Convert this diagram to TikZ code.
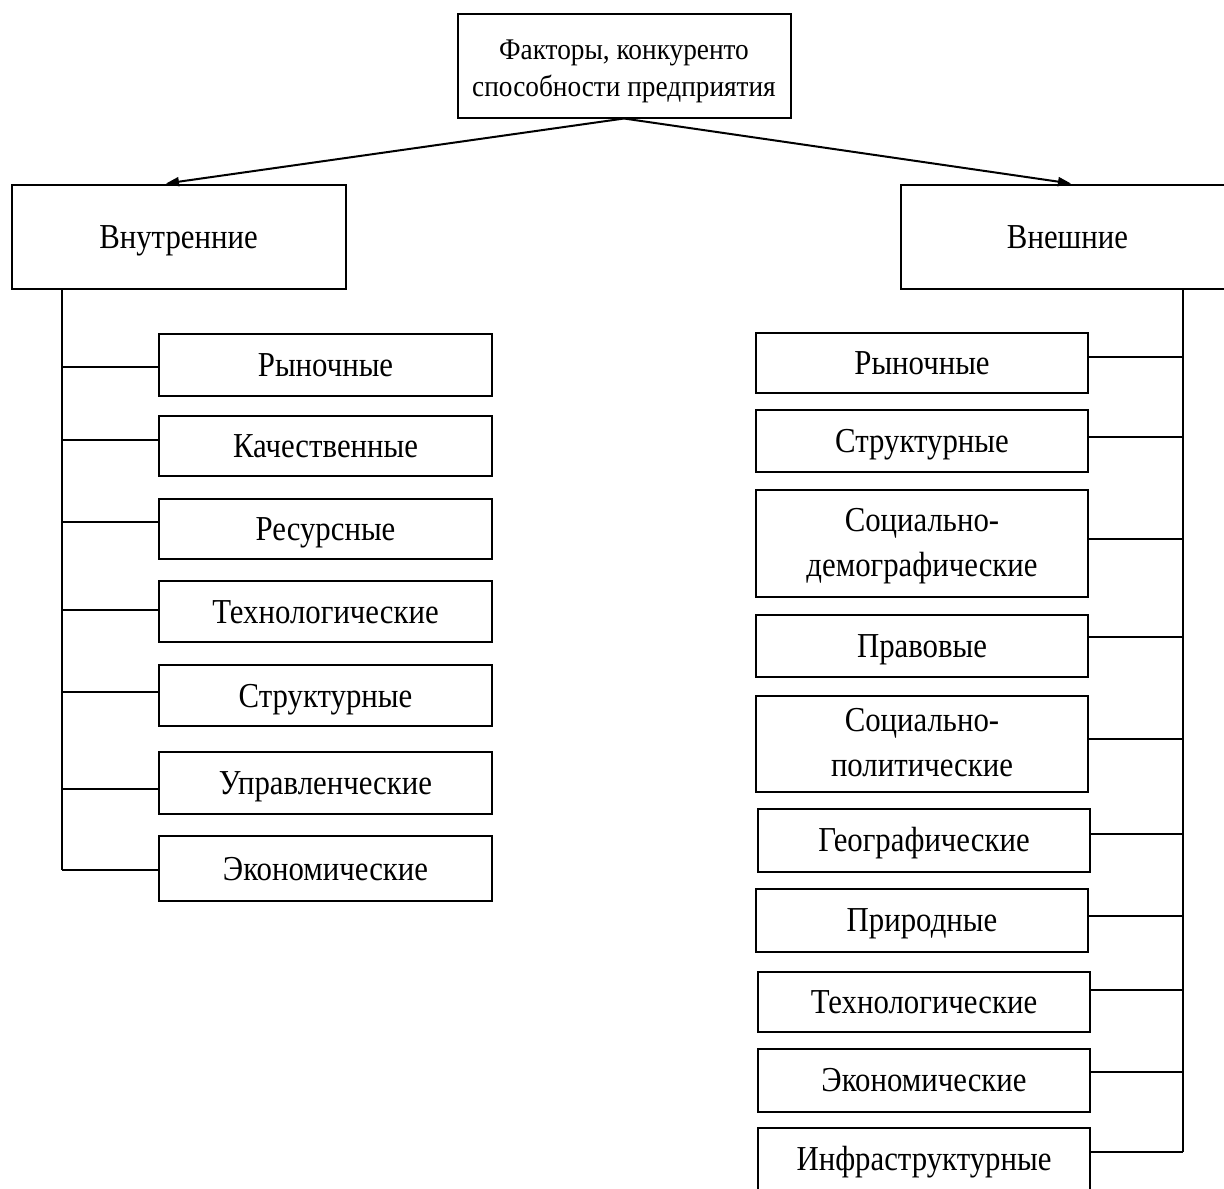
\documentclass[tikz,border=0pt]{standalone}
\usepackage{fontspec}
\setmainfont{Liberation Serif}[FakeStretch=0.88]
\newfontfamily\topfont{Liberation Serif}[FakeStretch=0.91]
\usetikzlibrary{arrows.meta}
\begin{document}
\begin{tikzpicture}[x=1pt,y=-1pt,
  box/.style={draw, line width=2pt, rectangle, inner sep=0pt, align=center,
    font=\fontsize{35}{45}\selectfont, text height=23.5pt, text depth=0pt},
  two/.style={text height=68.5pt, text depth=2pt},
  link/.style={line width=1.8pt},
  arr/.style={line width=2pt, -{Triangle[length=13pt,width=9pt]}}]
\useasboundingbox (0,0) rectangle (1224,1189);
% top
\node[box, minimum width=333pt, minimum height=104pt,
  font=\topfont\fontsize{30}{37}\selectfont, text height=66pt, text depth=3.4pt] (top) at (624,65.5)
  {Факторы, конкуренто\\способности предприятия};
\node[box, minimum width=334pt, minimum height=104pt] (lin) at (178.5,236.5) {Внутренние};
\node[box, minimum width=334pt, minimum height=104pt] (rex) at (1067.5,236.5) {Внешние};
\draw[arr] (top.south) -- ([xshift=-12.5pt]lin.north);
\draw[arr] (top.south) -- ([xshift=3.5pt]rex.north);
% left column
\node[box, minimum width=333pt, minimum height=62pt] (l1) at (325.5,365) {Рыночные};
\node[box, minimum width=333pt, minimum height=60pt] (l2) at (325.5,446) {Качественные};
\node[box, minimum width=333pt, minimum height=60pt] (l3) at (325.5,529) {Ресурсные};
\node[box, minimum width=333pt, minimum height=61pt] (l4) at (325.5,611.5) {Технологические};
\node[box, minimum width=333pt, minimum height=61pt] (l5) at (325.5,695.5) {Структурные};
\node[box, minimum width=333pt, minimum height=62pt] (l6) at (325.5,783) {Управленческие};
\node[box, minimum width=333pt, minimum height=65pt] (l7) at (325.5,868.5) {Экономические};
\coordinate (lt) at ([xshift=51.5pt]lin.south west);
\draw[link] (lt) -- ([yshift=-1.5pt]l7.west -| lt);
\draw[link] ([yshift=-2pt]l1.west) -- ([yshift=-2pt]l1.west -| lt);
\draw[link] ([yshift=6pt]l2.west) -- ([yshift=6pt]l2.west -| lt);
\draw[link] ([yshift=7pt]l3.west) -- ([yshift=7pt]l3.west -| lt);
\draw[link] ([yshift=1.5pt]l4.west) -- ([yshift=1.5pt]l4.west -| lt);
\draw[link] ([yshift=3.5pt]l5.west) -- ([yshift=3.5pt]l5.west -| lt);
\draw[link] ([yshift=-6pt]l6.west) -- ([yshift=-6pt]l6.west -| lt);
\draw[link] ([yshift=-1.5pt]l7.west) -- ([yshift=-1.5pt]l7.west -| lt);
% right column
\node[box, minimum width=332pt, minimum height=60pt] (r1) at (922,362.5) {Рыночные};
\node[box, minimum width=332pt, minimum height=62pt] (r2) at (922,440.5) {Структурные};
\node[box, two, minimum width=332pt, minimum height=107pt] (r3) at (922,543) {Социально-\\демографические};
\node[box, minimum width=332pt, minimum height=62pt] (r4) at (922,645.5) {Правовые};
\node[box, two, minimum width=332pt, minimum height=96pt] (r5) at (922,743.5) {Социально-\\политические};
\node[box, minimum width=332pt, minimum height=63pt] (r6) at (924,840) {Географические};
\node[box, minimum width=332pt, minimum height=63pt] (r7) at (922,920) {Природные};
\node[box, minimum width=332pt, minimum height=60pt] (r8) at (924,1001.5) {Технологические};
\node[box, minimum width=332pt, minimum height=63pt] (r9) at (924,1080) {Экономические};
\node[box, minimum width=332pt, minimum height=62pt] (r10) at (924,1159) {Инфраструктурные};
\coordinate (rt) at ([xshift=115.5pt]rex.south);
\draw[link] (rt) -- ([yshift=7pt]r10.east -| rt);
\draw[link] ([yshift=5.5pt]r1.east) -- ([yshift=5.5pt]r1.east -| rt);
\draw[link] ([yshift=3.5pt]r2.east) -- ([yshift=3.5pt]r2.east -| rt);
\draw[link] ([yshift=4pt]r3.east) -- ([yshift=4pt]r3.east -| rt);
\draw[link] ([yshift=8.5pt]r4.east) -- ([yshift=8.5pt]r4.east -| rt);
\draw[link] ([yshift=4.5pt]r5.east) -- ([yshift=4.5pt]r5.east -| rt);
\draw[link] ([yshift=6pt]r6.east) -- ([yshift=6pt]r6.east -| rt);
\draw[link] ([yshift=4pt]r7.east) -- ([yshift=4pt]r7.east -| rt);
\draw[link] ([yshift=11.5pt]r8.east) -- ([yshift=11.5pt]r8.east -| rt);
\draw[link] ([yshift=8pt]r9.east) -- ([yshift=8pt]r9.east -| rt);
\draw[link] ([yshift=7pt]r10.east) -- ([yshift=7pt]r10.east -| rt);
\end{tikzpicture}
\end{document}
